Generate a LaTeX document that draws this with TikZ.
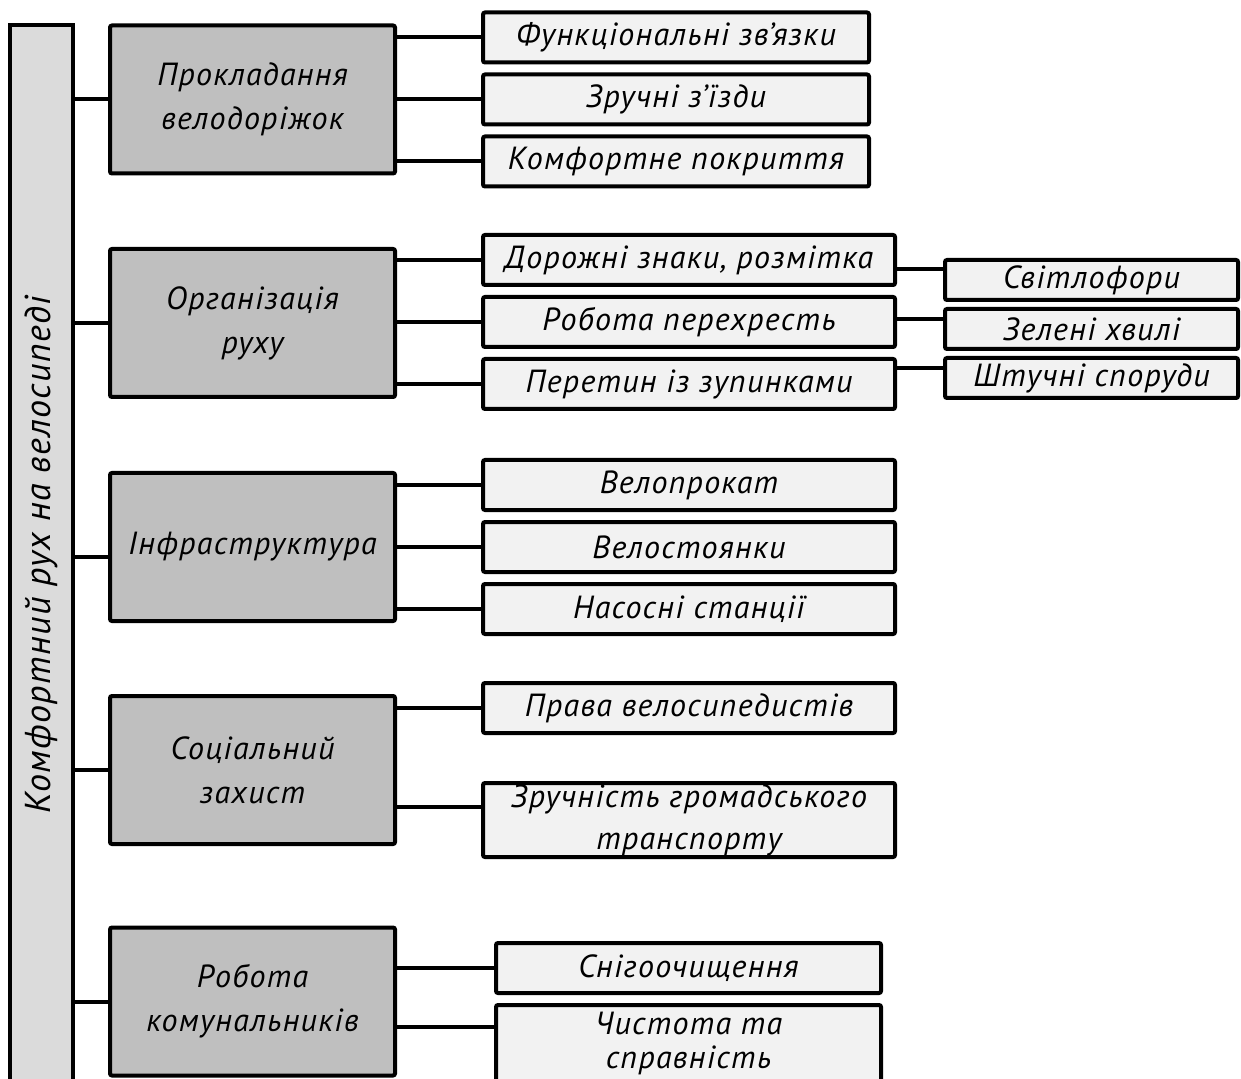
\documentclass[tikz,border=0pt]{standalone}
\usepackage{fontspec}
\setmainfont{PT Sans}
\newfontfamily\gost[LetterSpace=4]{PT Sans}
\usetikzlibrary{positioning}
\definecolor{barfill}{gray}{0.86}
\definecolor{catfill}{gray}{0.75}
\definecolor{itemfill}{gray}{0.95}
\tikzset{%
  bar/.style  = {rectangle, draw, line width=2pt, fill=barfill, rotate=90,
                 minimum width=530pt, minimum height=31.5pt, inner sep=0pt,
                 font=\gost\itshape\fontsize{18}{22}\selectfont},
  cat/.style  = {rectangle, draw, line width=2pt, fill=catfill, rounded corners=1pt,
                 minimum width=142.5pt, minimum height=74pt, inner sep=0pt,
                 outer sep=0pt, align=center,
                 font=\gost\itshape\fontsize{16}{22}\selectfont},
  item/.style = {rectangle, draw, line width=2pt, fill=itemfill, rounded corners=1pt,
                 minimum width=#1, minimum height=25pt, inner sep=0pt,
                 outer sep=0pt, align=center,
                 font=\gost\itshape\fontsize{16}{21}\selectfont},
  item/.default = 206pt,
  side/.style = {item=146.5pt, minimum height=20pt},
  link/.style = {line width=2pt}
}

\begin{document}
\begin{tikzpicture}[x=0.5pt, y=-0.5pt]
    \path[use as bounding box, clip] (0,0) rectangle (1241,1079);

    \node (root)    [bar] at (41.5,555)   {Комфортний рух на велосипеді};

    \node (lay)     [cat] at (252.5,99.5)   {Прокладання\\велодоріжок};
    \node (org)     [cat] at (252.5,323)    {Організація\\руху};
    \node (infra)   [cat] at (252.5,547)    {Інфраструктура};
    \node (soc)     [cat] at (252.5,770)    {Соціальний\\захист};
    \node (util)    [cat] at (252.5,1001.5) {Робота\\комунальників};

    \node (links)   [item=193pt] at (676,37.5)              {Функціональні зв’язки};
    \node (exits)   [item=193pt, below=6pt of links]        {Зручні з’їзди};
    \node (cover)   [item=193pt, below=6pt of exits]        {Комфортне покриття};

    \node (signs)   [item] at (689,260)                     {Дорожні знаки, розмітка};
    \node (cross)   [item, below=6pt of signs]              {Робота перехресть};
    \node (stops)   [item, below=6pt of cross]              {Перетин із зупинками};

    \node (lights)  [side, below right=0pt and 25pt of signs.east] {Світлофори};
    \node (waves)   [side, below=4.5pt of lights]           {Зелені хвилі};
    \node (works)   [side, below=4.5pt of waves]            {Штучні споруди};

    \node (rent)    [item] at (689,485)                     {Велопрокат};
    \node (parking) [item, below=6pt of rent]               {Велостоянки};
    \node (pumps)   [item, below=6pt of parking]            {Насосні станції};

    \node (rights)  [item] at (689,708)                     {Права велосипедистів};
    \node (transit) [item, minimum height=37pt, below=25pt of rights] {Зручність громадського\\транспорту};

    \node (snow)    [item=192.5pt] at (688.5,968)           {Снігоочищення};
    \node (clean)   [item=192.5pt, minimum height=44pt, text depth=9pt,
                     font=\gost\itshape\fontsize{16}{17}\selectfont,
                     below=6pt of snow] {Чистота та\\справність};

    \coordinate (infra-in)   at ([yshift=-5pt]infra.west);
    \coordinate (transit-in) at ([yshift=6.5pt]transit.west);
    \coordinate (clean-in)   at ([yshift=11pt]clean.west);
    \coordinate (lights-in)  at ([yshift=5.5pt]lights.west);
    \coordinate (waves-in)   at ([yshift=5pt]waves.west);
    \coordinate (works-in)   at ([yshift=5pt]works.west);

    \path[link] (root.south |- lay.west)     edge (lay.west)
                (root.south |- org.west)     edge (org.west)
                (root.south |- infra-in)     edge (infra-in)
                (root.south |- soc.west)     edge (soc.west)
                (root.south |- util.west)    edge (util.west)
                (lay.east |- links.west)     edge (links.west)
                (lay.east |- exits.west)     edge (exits.west)
                (lay.east |- cover.west)     edge (cover.west)
                (org.east |- signs.west)     edge (signs.west)
                (org.east |- cross.west)     edge (cross.west)
                (org.east |- stops.west)     edge (stops.west)
                (signs.east |- lights-in)    edge (lights-in)
                (cross.east |- waves-in)     edge (waves-in)
                (stops.east |- works-in)     edge (works-in)
                (infra.east |- rent.west)    edge (rent.west)
                (infra.east |- parking.west) edge (parking.west)
                (infra.east |- pumps.west)   edge (pumps.west)
                (soc.east |- rights.west)    edge (rights.west)
                (soc.east |- transit-in)     edge (transit-in)
                (util.east |- snow.west)     edge (snow.west)
                (util.east |- clean-in)      edge (clean-in);

  \end{tikzpicture}
\end{document}
